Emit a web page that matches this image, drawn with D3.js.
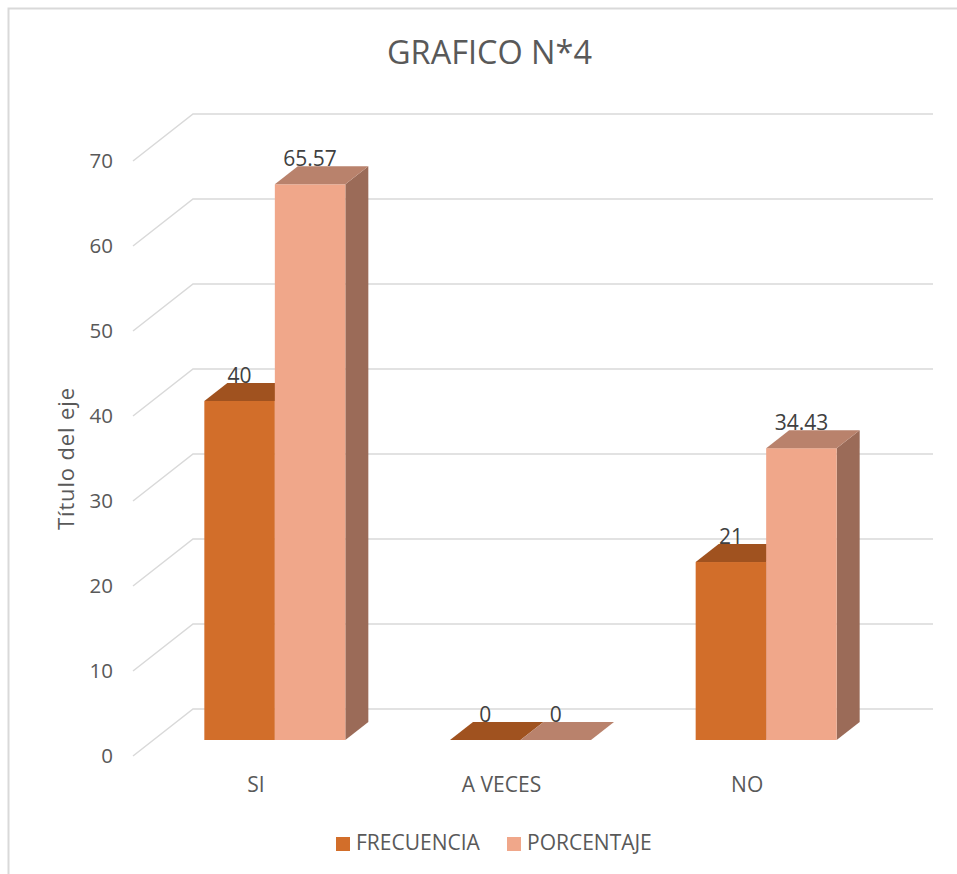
<!DOCTYPE html>
<html>
<head>
<meta charset="utf-8">
<script src="https://cdn.jsdelivr.net/npm/d3@7"></script>
<style>
  html, body { margin: 0; padding: 0; background: #fff; }
  svg { display: block; font-family: "Open Sans", "Noto Sans", sans-serif; }
</style>
</head>
<body>
<svg id="chart" width="957" height="874"></svg>
<script>
// Chart data
const title = "GRAFICO N*4";
const axisTitle = "Título del eje";
const categories = ["SI", "A VECES", "NO"];
const seriesNames = ["FRECUENCIA", "PORCENTAJE"];
const frecuencia = [40, 0, 21];
const porcentaje = [65.57, 0, 34.43];
const tickValues = [0, 10, 20, 30, 40, 50, 60, 70];

// Face colours per series: front, top, side
const palette = {
  FRECUENCIA: { front: "#D26E2A", top: "#A0521F", side: "#8E4A1E", legend: "#D26E2A" },
  PORCENTAJE: { front: "#F0A78A", top: "#B9826C", side: "#9B6B58", legend: "#F0A78A" }
};

const svg = d3.select("#chart");

// Oblique 3D projection parameters
const wallDX = 60, wallDY = -47;   // floor depth: front edge -> back wall
const barDX = 23, barDY = -18;     // bar depth

// Scales
const yBar = d3.scaleLinear().domain([0, 70]).range([740, 146.75]);   // bar front plane
const yWall = d3.scaleLinear().domain([0, 70]).range([709, 114]);     // back wall
const yFront = d3.scaleLinear().domain([0, 70]).range([709 - wallDY, 114 - wallDY]); // front edge
const xCat = d3.scaleBand().domain(categories).range([152, 889]);
const groupW = 141;
const xSer = d3.scaleBand().domain(seriesNames).range([0, groupW]);
const wallLeft = 133 + wallDX, wallRight = 933;

// Chart frame (top and left edges)
svg.append("path")
  .attr("d", `M8.5,874 L8.5,8.5 L957,8.5`)
  .attr("fill", "none")
  .attr("stroke", "#d9d9d9")
  .attr("stroke-width", 2);

// Title
svg.append("text")
  .attr("x", 489.5).attr("y", 64)
  .attr("text-anchor", "middle")
  .attr("font-size", 32)
  .attr("fill", "#595959")
  .attr("textLength", 205)
  .attr("lengthAdjust", "spacingAndGlyphs")
  .text(title);

// Gridlines: diagonal on the side wall, horizontal on the back wall
svg.append("g").selectAll("path")
  .data(tickValues)
  .join("path")
  .attr("d", v => `M${wallLeft - wallDX},${yFront(v)} L${wallLeft},${yWall(v)} L${wallRight},${yWall(v)}`)
  .attr("fill", "none")
  .attr("stroke", "#d9d9d9")
  .attr("stroke-width", 1.5);

// Value axis labels
const yAxis = svg.append("g")
  .attr("transform", "translate(113,0)")
  .call(d3.axisLeft(yFront).tickValues(tickValues).tickSize(0).tickPadding(0));
yAxis.select(".domain").remove();
yAxis.selectAll("text")
  .attr("font-size", 20.5)
  .attr("font-family", "'Open Sans', 'Noto Sans', sans-serif")
  .attr("fill", "#595959");

// Value axis title
svg.append("text")
  .attr("transform", "translate(74,459) rotate(-90)")
  .attr("text-anchor", "middle")
  .attr("font-size", 22)
  .attr("fill", "#595959")
  .attr("textLength", 142)
  .text(axisTitle);

// Category axis labels on the floor's front edge
const xCatFront = xCat.copy().range([152 - 19, 889 - 19]);
const xAxis = svg.append("g")
  .attr("transform", "translate(0,777)")
  .call(d3.axisBottom(xCatFront).tickSize(0).tickPadding(0));
xAxis.select(".domain").remove();
xAxis.selectAll("text")
  .attr("font-size", 21)
  .attr("font-family", "'Open Sans', 'Noto Sans', sans-serif")
  .attr("fill", "#595959");

// Bars
const values = { FRECUENCIA: frecuencia, PORCENTAJE: porcentaje };
const bars = [];
categories.forEach((c, i) => {
  seriesNames.forEach(s => {
    const x0 = xCat(c) + (xCat.bandwidth() - groupW) / 2 + xSer(s);
    const x1 = x0 + xSer.bandwidth();
    bars.push({ cat: c, series: s, value: values[s][i], x0, x1, yTop: yBar(values[s][i]), yBase: yBar(0) });
  });
});

const barG = svg.append("g").selectAll("g")
  .data(bars)
  .join("g");

// side face
barG.append("path")
  .attr("d", d => `M${d.x1},${d.yBase} L${d.x1 + barDX},${d.yBase + barDY} L${d.x1 + barDX},${d.yTop + barDY} L${d.x1},${d.yTop} Z`)
  .attr("fill", d => palette[d.series].side);
// front face
barG.append("rect")
  .attr("x", d => d.x0).attr("y", d => d.yTop)
  .attr("width", d => d.x1 - d.x0).attr("height", d => d.yBase - d.yTop)
  .attr("fill", d => palette[d.series].front);
// top face
barG.append("path")
  .attr("d", d => `M${d.x0},${d.yTop} L${d.x1},${d.yTop} L${d.x1 + barDX},${d.yTop + barDY} L${d.x0 + barDX},${d.yTop + barDY} Z`)
  .attr("fill", d => palette[d.series].top);

// Data labels
svg.append("g").selectAll("text")
  .data(bars)
  .join("text")
  .attr("x", d => (d.x0 + d.x1) / 2)
  .attr("y", d => d.yTop + barDY)
  .attr("text-anchor", "middle")
  .attr("font-size", 21)
  .attr("fill", "#404040")
  .text(d => d.value);

// Legend
const legendPos = [{ x: 336, tx: 356 }, { x: 507, tx: 527 }];
const legend = svg.append("g").selectAll("g")
  .data(seriesNames)
  .join("g");
legend.append("rect")
  .attr("x", (d, i) => legendPos[i].x).attr("y", 837)
  .attr("width", 14).attr("height", 14)
  .attr("fill", d => palette[d].legend);
legend.append("text")
  .attr("x", (d, i) => legendPos[i].tx).attr("y", 850)
  .attr("font-size", 21)
  .attr("fill", "#595959")
  .text(d => d);
</script>
</body>
</html>
